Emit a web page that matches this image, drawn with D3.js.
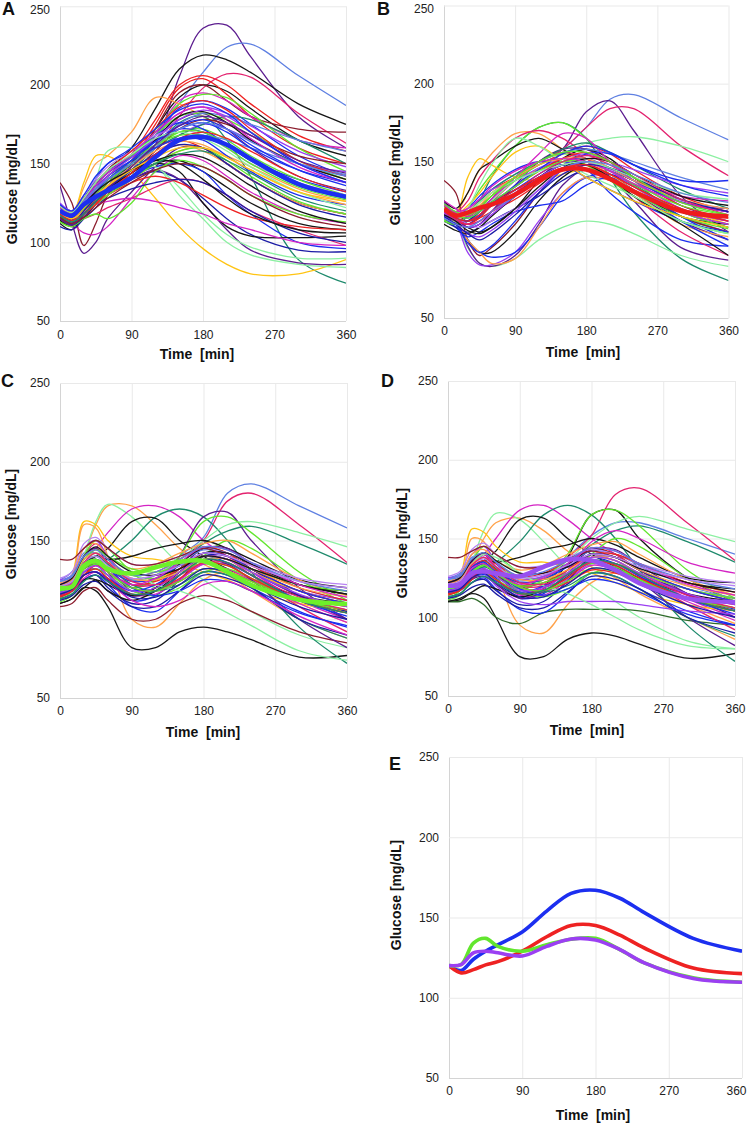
<!DOCTYPE html>
<html><head><meta charset="utf-8">
<script src="https://cdn.jsdelivr.net/npm/d3@7"></script>
<style>body{margin:0;background:#fff}svg{display:block}</style>
</head><body><svg id="chart" width="750" height="1125"></svg>
<script>
// ---------------- DATA ----------------
const times = [0,15,30,45,60,90,120,150,180,210,240,300,360];
const xTicks = [0,90,180,270,360];
const yTicks = [50,100,150,200,250];
const panelLetters = ["A","B","C","D","E"];
const xTitle = "Time  [min]";
const yTitle = "Glucose [mg/dL]";

const palette = {blk:"#161616",blu:"#1c2ff0",red:"#ee2222",grn:"#62e62e",pur:"#5c1d8f",mag:"#d424c4",crm:"#e3236f",
  org:"#ffa24a",yel:"#ffc414",lgr:"#8cf0a2",tea:"#1e8a6c",drd:"#8c1d2e",cfb:"#5f80e2",vio:"#9b3ff2",nav:"#1c1ca6",lpu:"#b883f2",dgr:"#2f6b2a"};

// mean curves (panel E)
const meanA = [120,117,124,129,133,141,154,165,167,162,153,137,129];
const meanB = [120,115.5,117.5,120.5,122.5,129,138,145,145,139,131,118.5,115];
const meanC = [120,120.7,134,137,132,129,133,136.5,137,130,121.7,112.4,109.7];
const meanD = [120,120.7,128,129,128,126,132,136.6,136,130,121.7,112,109.7];

const A_colors = ["pur","cfb","blk","red","crm","blk","red","drd","mag","grn","blu","vio","org","tea","yel","lgr","blu","pur","grn","blk","red","mag","nav","blu","pur","pur","blk","lgr","org","grn","vio","crm","tea","drd","cfb","blu","grn","blk","red","mag","lpu","grn","nav","cfb","org","blu","red","blk","grn","blu",
  "blu","vio","grn","mag","org","nav","cfb","red","lgr","pur","blk","tea","blu","yel","drd"];
const A_values = [
[120,116,120,128,134,146,162,205,236,238,218,180,160],
[118,115,122,130,138,150,165,188,208,224,226,206,187],
[124,120,128,136,146,160,185,210,219,216,208,188,175],
[118,114,124,134,142,156,178,200,206,200,188,168,158],
[122,118,124,130,136,148,160,180,198,207,205,182,163],
[116,112,120,128,136,150,172,192,200,196,185,165,155],
[122,118,126,134,140,152,175,198,204,194,180,160,150],
[138,125,98,112,130,148,172,195,200,190,180,172,170],
[120,116,124,132,140,150,168,190,195,190,180,165,160],
[115,112,122,134,145,155,170,188,194,192,182,160,145],
[118,115,122,130,138,150,168,185,190,185,175,155,142],
[123,118,126,134,140,152,168,182,186,182,174,158,148],
[120,118,135,150,155,170,192,188,180,172,165,150,140],
[116,112,118,126,134,146,160,176,180,165,142,89,74],
[120,118,138,155,155,145,128,110,96,86,80,80,89],
[119,115,125,140,158,160,150,130,115,100,92,86,84],
[117,113,125,138,145,155,165,172,170,162,152,140,132],
[121,117,125,135,142,152,165,178,182,172,160,142,133],
[114,111,120,132,140,150,160,170,172,165,155,140,130],
[112,108,118,126,132,142,150,152,145,135,125,112,108],
[119,115,122,128,135,148,160,165,160,150,140,125,118],
[118,112,106,105,110,128,145,155,152,142,132,118,112],
[110,108,115,122,130,140,145,140,128,115,105,95,94],
[116,112,120,130,135,142,148,150,145,130,118,100,96],
[118,114,118,126,132,140,146,140,125,108,95,87,86],
[136,112,93,100,115,132,148,160,160,150,140,125,118],
[114,110,116,124,130,140,150,145,125,110,104,103,104],
[120,117,125,135,145,150,148,135,118,105,97,90,90],
[119,116,124,130,136,146,155,162,158,150,140,125,118],
[122,118,126,136,144,155,168,180,182,178,170,152,140],
[125,120,128,136,140,146,155,168,175,172,165,150,145],
[117,114,115,118,122,128,135,140,138,130,120,108,98],
[120,116,124,132,140,150,160,168,175,180,178,165,150],
[118,114,120,126,132,144,158,172,178,175,168,155,150],
[116,112,120,130,138,148,160,175,182,180,175,165,158],
[121,117,128,140,150,158,168,176,172,162,152,138,128],
[113,110,115,118,115,125,145,152,148,140,130,118,113],
[119,115,122,130,138,150,165,180,183,176,165,150,140],
[115,111,118,125,130,138,142,138,130,122,116,110,108],
[120,116,120,124,126,128,126,122,118,112,108,100,98],
[124,120,130,140,148,158,168,172,168,160,150,138,130],
[117,113,122,132,140,152,162,168,168,160,150,135,127],
[115,111,116,124,128,134,138,140,138,130,120,106,100],
[118,114,122,130,136,146,156,165,168,165,160,150,143],
[121,117,120,124,130,140,150,158,160,155,148,134,126],
[120,116,126,136,144,154,164,172,176,170,160,146,138],
[123,119,128,138,146,158,172,186,190,184,172,152,142],
[118,114,120,128,134,144,152,150,140,128,118,108,106],
[116,112,118,124,130,140,150,158,160,152,142,126,118],
[119,115,124,134,142,152,160,166,165,155,145,130,124],
[118,114,122,132,140,152,164,174,178,172,162,146,136],
[120,116,124,134,142,154,166,178,184,180,170,150,138],
[117,113,121,130,138,150,162,170,170,162,152,136,128],
[122,118,126,136,144,156,170,182,186,178,166,148,138],
[119,115,120,128,136,148,158,164,162,154,146,132,124],
[116,112,120,128,134,146,156,162,160,150,140,124,116],
[121,117,126,134,140,150,162,172,176,172,164,150,142],
[118,114,118,124,132,144,156,166,170,166,158,142,132],
[123,119,128,138,146,156,166,170,166,158,148,132,122],
[115,111,118,126,134,148,162,174,180,176,168,152,144],
[120,116,124,132,138,146,152,156,154,146,136,120,112],
[117,113,118,126,132,142,150,156,158,152,144,128,120],
[124,120,130,142,150,160,172,184,188,182,170,150,138],
[119,115,122,130,136,146,154,160,160,154,146,132,126],
[116,112,116,122,128,138,146,150,148,140,130,116,110]];

const B_colors = ["cfb","pur","crm","lgr","tea","grn","org","yel","lgr","pur","vio","drd","blk","blu","org","blu","nav","blk","crm","red","grn","pur","blu","blk","grn","cfb","pur","blu","crm","tea","org","mag","vio","grn","red","nav","blk","lpu","yel","blu","mag","lgr","red","blu","vio",
  "blu","grn","vio","org","blk","mag","nav","lgr","crm","grn","cfb","red"];
const B_values = [
[118,114,112,118,126,140,150,158,172,190,193,178,164],
[122,117,112,118,126,140,150,158,182,189,170,128,105],
[120,115,110,116,124,138,150,158,172,184,184,160,141],
[117,114,112,118,125,138,148,155,162,165,166,160,150],
[116,112,115,125,140,160,172,175,165,140,118,88,74],
[115,112,120,132,142,160,172,175,165,150,138,115,105],
[120,118,130,145,155,168,168,158,148,140,132,118,112],
[118,116,140,152,148,140,138,142,145,140,132,120,110],
[116,110,95,85,83,88,100,108,112,110,104,90,83],
[124,115,96,85,83,90,110,135,145,140,130,112,100],
[122,112,92,84,84,92,112,130,140,138,130,115,105],
[138,130,100,90,95,110,130,145,150,145,135,115,105],
[118,110,100,92,92,105,125,140,148,142,132,115,110],
[115,110,100,92,89,92,108,128,140,142,135,115,100],
[117,112,100,92,85,88,108,130,140,138,130,110,102],
[114,108,102,105,110,118,122,125,135,140,132,112,96],
[112,108,105,108,112,120,128,138,145,142,135,118,108],
[125,120,130,145,150,160,165,158,150,145,138,125,120],
[122,118,125,140,150,165,170,165,155,148,140,125,118],
[120,116,118,125,132,140,148,155,160,155,145,128,118],
[112,110,116,124,130,140,150,155,152,145,135,118,108],
[118,113,108,110,118,135,150,158,158,150,140,122,112],
[120,115,120,128,135,145,150,148,140,132,125,112,105],
[116,112,108,105,108,120,138,152,158,152,140,125,120],
[113,110,112,120,128,138,145,150,148,140,130,115,107],
[118,114,118,125,132,142,150,156,158,155,150,140,132],
[120,114,108,110,118,130,140,150,152,140,125,95,87],
[117,112,110,115,122,135,145,150,145,130,118,100,96],
[121,117,115,120,128,140,150,156,152,140,128,105,90],
[119,115,118,125,132,142,150,158,162,156,148,132,120],
[116,112,118,124,130,138,145,150,150,142,132,118,110],
[119,114,110,112,118,128,138,146,150,145,138,128,125],
[123,118,120,126,132,138,146,152,155,150,145,135,130],
[121,116,118,122,128,138,148,152,148,138,128,112,104],
[118,114,112,114,118,126,136,146,148,142,134,118,110],
[114,110,112,118,124,132,140,148,150,145,138,125,118],
[110,106,104,108,115,128,140,148,148,140,128,110,90],
[119,115,110,108,112,120,132,142,148,145,138,125,120],
[120,116,122,130,140,156,160,150,140,132,125,115,108],
[116,110,98,92,96,112,130,145,155,155,148,138,138],
[125,120,115,118,126,140,155,168,165,150,138,120,112],
[114,112,120,135,148,165,160,150,142,135,128,112,104],
[117,112,110,114,122,134,144,152,156,150,140,122,114],
[121,116,114,118,124,134,145,155,160,156,148,135,128],
[115,110,104,102,106,118,132,145,150,146,138,120,112],
[118,114,112,116,122,132,142,150,152,146,138,124,118],
[121,116,114,118,124,134,144,150,150,144,136,122,116],
[117,112,108,110,116,128,140,148,150,144,134,118,110],
[119,115,116,122,130,140,148,152,152,146,138,126,120],
[116,112,106,104,108,120,134,146,152,150,142,128,122],
[122,118,120,126,134,144,150,152,150,144,136,124,118],
[115,110,104,100,104,116,130,142,148,146,140,126,118],
[120,116,118,124,130,138,144,148,150,146,140,130,126],
[118,113,110,112,118,130,142,150,154,150,142,126,116],
[123,118,116,120,128,140,150,156,156,150,140,124,116],
[114,110,108,112,118,128,138,146,150,148,142,130,124],
[119,114,112,116,122,132,140,146,148,142,134,120,112]];

const C_colors = ["cfb","crm","blk","org","lgr","mag","tea","blk","yel","org","pur","lgr","tea","grn","drd","grn","blu","blu","red","vio","blk","pur","nav","crm","org","mag","cfb","grn","pur","blk","grn","tea","blu","red","vio","lpu","yel","nav","blk","drd","red","blu","mag","lgr","grn",
  "blu","org","vio","blk","red","mag","grn","cfb","nav","lpu","crm","tea"];
const C_values = [
[125,130,142,145,138,122,125,140,152,180,186,172,158],
[120,124,140,148,140,125,128,138,150,175,180,160,136],
[110,113,120,118,108,82,82,92,95,92,87,76,77],
[118,122,140,160,172,172,160,145,135,128,118,100,88],
[115,120,140,162,173,165,150,135,125,115,105,90,82],
[122,126,138,145,155,170,172,165,150,140,130,112,100],
[118,122,132,135,138,150,165,170,165,150,130,95,72],
[120,124,135,140,145,162,164,150,140,132,125,115,110],
[120,128,162,160,150,140,138,135,130,125,118,110,105],
[118,125,160,158,140,100,95,110,125,130,125,110,98],
[119,123,135,138,130,115,120,140,165,168,150,120,100],
[116,120,135,140,135,125,128,138,150,160,162,155,146],
[117,121,132,135,130,120,125,135,148,156,159,148,135],
[114,118,130,135,130,120,125,140,162,165,155,130,112],
[108,110,118,120,112,100,100,110,115,112,105,92,85],
[112,118,140,150,145,130,120,125,140,150,145,125,110],
[115,118,125,128,122,108,105,118,130,128,120,105,95],
[120,122,130,132,128,112,115,128,140,138,130,115,105],
[122,126,140,145,138,128,130,138,146,142,132,115,108],
[125,128,145,150,140,120,118,125,135,135,128,112,104],
[118,122,135,140,138,140,145,148,150,145,138,125,120],
[119,123,140,145,135,118,120,132,145,145,135,115,100],
[113,116,125,128,120,110,112,125,140,140,132,115,105],
[121,125,138,142,135,122,122,130,140,138,128,108,92],
[123,127,145,148,140,132,135,142,148,150,142,125,115],
[117,120,130,134,128,116,116,125,135,132,125,110,98],
[124,128,140,142,135,125,128,136,144,142,135,120,112],
[111,115,128,132,128,118,115,120,130,132,126,112,104],
[116,119,128,130,125,115,118,128,138,135,125,100,82],
[110,113,120,125,122,115,120,135,145,142,135,122,118],
[118,121,132,138,135,128,126,130,136,134,126,112,106],
[120,124,136,140,135,122,118,122,130,128,120,100,88],
[117,120,128,130,126,118,122,132,140,136,128,112,102],
[114,118,128,134,130,120,118,124,132,130,124,112,106],
[122,126,138,142,136,126,128,134,140,138,130,118,112],
[126,130,148,152,145,135,135,140,145,142,136,126,122],
[119,122,134,138,132,124,126,132,140,138,130,118,110],
[112,115,122,124,118,108,108,118,128,126,120,100,90],
[115,118,125,125,118,112,118,130,142,142,135,122,116],
[138,138,145,150,145,135,135,140,145,140,132,118,110],
[119,122,132,136,130,122,124,132,142,140,134,120,112],
[121,124,134,138,132,120,115,118,125,124,118,104,96],
[115,118,126,130,124,112,108,112,122,124,118,102,90],
[118,122,136,142,140,130,122,118,112,104,96,80,74],
[120,124,138,144,140,132,130,134,140,138,132,122,118],
[119,122,134,138,132,124,126,134,142,140,132,118,110],
[121,125,138,142,136,126,125,130,138,138,132,120,114],
[117,120,130,134,128,118,120,130,140,138,130,116,108],
[122,126,140,146,140,130,128,132,140,138,132,122,116],
[115,118,128,132,126,116,118,126,136,134,126,112,104],
[120,123,134,136,130,122,126,136,146,144,136,122,114],
[118,121,132,136,130,120,118,124,132,130,124,112,106],
[124,127,140,144,138,128,130,138,146,144,136,124,118],
[116,119,128,130,124,114,114,122,132,130,122,108,100],
[121,124,136,140,134,126,128,134,142,140,134,124,120],
[119,122,136,142,136,124,122,128,136,136,128,114,106],
[113,116,124,128,124,116,118,128,138,136,128,112,104]];

const D_colors = ["cfb","crm","blk","org","lgr","mag","tea","blk","yel","org","blk","lgr","tea","grn","dgr","grn","blu","blu","red","vio","blk","pur","nav","crm","org","mag","cfb","grn","pur","blk","grn","tea","blu","red","vio","lpu","yel","nav","drd","mag","vio","lgr","red","blu","grn",
  "blu","org","vio","blk","red","mag","grn","cfb","nav","lpu","crm","tea"];
const D_values = [
[125,128,138,140,134,120,124,138,152,160,160,150,140],
[120,123,135,140,135,122,126,138,152,178,182,160,136],
[110,111,115,112,100,75,75,86,90,88,83,74,77],
[118,121,135,150,160,163,155,142,132,125,115,100,86],
[115,119,135,155,166,162,148,132,120,110,100,85,80],
[122,125,135,140,150,168,171,162,150,140,130,112,100],
[118,121,128,132,135,148,165,171,165,150,130,95,72],
[120,123,130,136,142,162,163,150,140,132,125,115,110],
[120,126,156,154,145,135,135,132,128,122,116,108,104],
[118,122,150,148,130,95,90,108,122,128,122,108,96],
[119,122,130,134,128,115,120,138,165,168,150,125,110],
[116,119,130,135,132,124,126,136,150,160,164,156,148],
[117,120,128,132,128,120,124,134,146,155,158,148,135],
[114,117,126,130,126,118,124,140,165,168,158,130,112],
[110,110,112,108,100,96,103,105,105,105,104,98,95],
[112,117,135,145,140,128,120,125,140,150,145,125,110],
[115,117,122,125,118,105,103,115,128,126,118,104,95],
[120,121,128,130,125,112,115,128,140,138,130,115,105],
[122,125,135,140,134,126,128,136,144,140,130,115,108],
[125,127,140,145,135,118,116,124,134,134,127,112,104],
[118,121,130,136,135,138,143,146,150,146,138,125,122],
[119,122,135,140,130,116,118,130,143,143,133,115,100],
[113,115,122,124,117,108,110,123,138,138,130,114,104],
[121,124,134,138,131,120,120,128,138,136,126,108,92],
[123,126,140,143,136,130,133,140,146,148,140,124,114],
[117,119,126,130,124,114,114,123,133,130,123,110,98],
[124,127,136,138,131,123,126,134,142,140,133,120,112],
[111,114,124,128,124,116,113,118,128,130,124,112,104],
[116,118,124,126,121,112,116,126,136,133,123,100,82],
[110,112,116,120,118,113,118,133,143,140,134,122,118],
[118,120,128,133,131,126,124,128,134,132,124,112,106],
[120,123,132,136,131,120,116,120,128,126,118,100,88],
[117,119,125,127,123,116,120,130,138,134,126,112,102],
[114,117,124,130,127,119,117,122,130,128,122,112,106],
[122,125,134,138,132,124,126,132,138,136,128,118,112],
[126,129,143,147,140,132,133,138,143,140,134,126,122],
[119,121,130,134,129,122,124,130,138,136,128,118,110],
[112,114,119,121,115,106,106,116,126,124,118,100,90],
[138,138,142,145,140,132,132,137,142,138,130,118,110],
[121,124,136,140,132,118,118,130,148,155,150,135,128],
[118,120,126,128,120,110,108,110,110,110,108,104,102],
[118,121,134,140,138,128,120,115,108,100,92,82,80],
[120,122,132,136,130,120,122,130,140,140,134,122,116],
[121,123,132,135,128,118,114,118,124,122,116,102,95],
[119,122,130,134,128,120,122,128,135,134,128,118,112],
[119,121,130,134,129,122,124,132,140,138,130,118,110],
[121,124,134,138,132,124,124,130,138,138,130,120,114],
[117,119,127,131,126,117,119,128,138,136,128,115,108],
[122,125,136,141,136,128,128,132,140,138,131,122,116],
[115,117,125,129,124,115,117,125,135,133,125,112,104],
[120,122,131,134,128,121,125,134,144,142,134,121,114],
[118,120,129,133,128,119,117,123,131,129,123,112,106],
[124,126,137,141,135,126,129,136,144,142,134,124,118],
[116,118,125,128,122,113,113,121,131,129,121,108,100],
[121,123,133,137,132,125,127,133,140,138,132,124,120],
[119,121,133,138,132,122,121,127,135,134,127,114,106],
[113,115,122,126,122,115,117,127,136,134,127,112,104]];

const E_colors = ["blu","red","grn","vio"];
const E_values = [meanA, meanB, meanC, meanD];

// ---------------- LAYOUT ----------------
const panels = [
 {id:"A", x0:60, x1:346, yTop:6.3, yBot:321, letter:[2,15], yT:[12,189], xT:[197,359], tickPad:9, colors:A_colors, values:A_values, mean:meanA, meanColor:"#1c2ff0"},
 {id:"B", x0:444, x1:728.5, yTop:5.5, yBot:318, letter:[377,15], yT:[395,170], xT:[583,357], tickPad:8, colors:B_colors, values:B_values, mean:meanB, meanColor:"#ee1c1c"},
 {id:"C", x0:60, x1:347, yTop:383, yBot:698, letter:[1,387], yT:[11,524], xT:[203,737], tickPad:8, colors:C_colors, values:C_values, mean:meanC, meanColor:"#6ef02a"},
 {id:"D", x0:448, x1:735, yTop:381, yBot:696, letter:[381,387], yT:[402,543], xT:[587,735], tickPad:8, colors:D_colors, values:D_values, mean:meanD, meanColor:"#9850f0"},
 {id:"E", x0:449, x1:742, yTop:757, yBot:1078, letter:[389,770], yT:[396,895], xT:[593,1120], tickPad:8, colors:E_colors, values:E_values, mean:null}
];

const svg = d3.select("#chart");
const FONT = "'Liberation Sans', Arial, Helvetica, sans-serif";

panels.forEach((P,pi) => {
  const x = d3.scaleLinear().domain([0,360]).range([P.x0, P.x1]);
  const y = d3.scaleLinear().domain([50,250]).range([P.yBot, P.yTop]);
  const g = svg.append("g");

  // vertical grid + x labels
  const xa = g.append("g").attr("transform",`translate(0,${P.yBot})`)
    .call(d3.axisBottom(x).tickValues(xTicks).tickSize(-(P.yBot-P.yTop)).tickPadding(P.tickPad).tickFormat(d3.format("d")));
  xa.select(".domain").remove();
  xa.selectAll("line").attr("stroke", d => d===0 ? "#d4d4d4" : "#e9e9e9").attr("stroke-width",1);
  xa.selectAll("text").attr("font-family",FONT).attr("font-size",12).attr("fill","#222")
    .attr("text-anchor", d => (d===360 && x(d)+11 > 748) ? "end" : "middle")
    .attr("dx", d => (d===360 && x(d)+11 > 748) ? 4 : 0);

  // horizontal grid + y labels
  const ya = g.append("g").attr("transform",`translate(${P.x0},0)`)
    .call(d3.axisLeft(y).tickValues(yTicks).tickSize(-(P.x1-P.x0)).tickPadding(10).tickFormat(d3.format("d")));
  ya.select(".domain").remove();
  ya.selectAll("line").attr("stroke", d => d===50 ? "#d4d4d4" : "#e9e9e9").attr("stroke-width",1);
  ya.selectAll("text").attr("font-family",FONT).attr("font-size",12).attr("fill","#222")
    .attr("dy", d => (y(d) < 8) ? "0.6em" : "0.32em");

  // clip
  const cid = "clip"+P.id;
  svg.append("clipPath").attr("id",cid).append("rect")
    .attr("x",P.x0).attr("y",P.yTop).attr("width",P.x1-P.x0).attr("height",P.yBot-P.yTop);

  const line = d3.line().x((d,i)=>x(times[i])).y(d=>y(d)).curve(d3.curveCatmullRom.alpha(0.5));
  const lg = g.append("g").attr("clip-path",`url(#${cid})`).attr("fill","none");

  const isE = P.id === "E";
  lg.selectAll("path.s").data(P.values).join("path").attr("class","s")
    .attr("d", line)
    .attr("stroke",(d,i)=>palette[P.colors[i]])
    .attr("stroke-width", isE ? 3.6 : 1.3)
    .attr("stroke-linejoin","round");
  if (P.mean) {
    lg.append("path").datum(P.mean).attr("d",line)
      .attr("stroke",P.meanColor).attr("stroke-width",4.5);
  }

  // titles
  g.append("text").attr("x",P.xT[0]).attr("y",P.xT[1]).attr("text-anchor","middle")
    .attr("font-family",FONT).attr("font-weight","bold").attr("font-size",14).attr("fill","#111")
    .attr("xml:space","preserve").style("white-space","pre").text(xTitle);
  g.append("text").attr("transform",`translate(${P.yT[0]},${P.yT[1]}) rotate(-90)`)
    .attr("text-anchor","middle").attr("dy","0.35em")
    .attr("font-family",FONT).attr("font-weight","bold").attr("font-size",14).attr("fill","#111")
    .text(yTitle);
  g.append("text").attr("x",P.letter[0]).attr("y",P.letter[1])
    .attr("font-family",FONT).attr("font-weight","bold").attr("font-size",18).attr("fill","#111")
    .text(panelLetters[pi]);
});
</script>
</body></html>
